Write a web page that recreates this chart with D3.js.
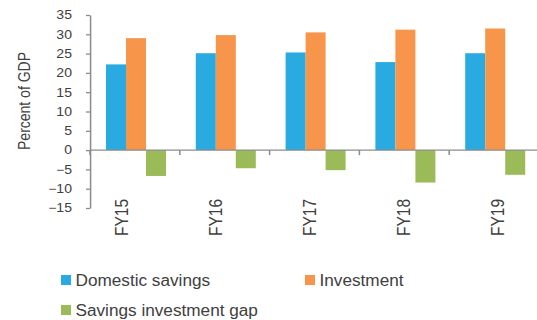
<!DOCTYPE html>
<html>
<head>
<meta charset="utf-8">
<script src="https://cdn.jsdelivr.net/npm/d3@7"></script>
<style>
  html, body { margin: 0; padding: 0; background: #fff; }
  svg { display: block; font-family: "Liberation Sans", Arial, sans-serif; }
</style>
</head>
<body>
<script>
// Savings and investment, percent of GDP
const categories = ["FY15", "FY16", "FY17", "FY18", "FY19"];
const seriesNames = ["Domestic savings", "Investment", "Savings investment gap"];
const domesticSavings = [22.2, 25.1, 25.3, 22.8, 25.1];
const investment = [29.0, 29.8, 30.5, 31.2, 31.5];
const savingsGap = [-6.7, -4.7, -5.2, -8.4, -6.4];
const yTicks = [35, 30, 25, 20, 15, 10, 5, 0, -5, -10, -15];

const colors = ["#29abe2", "#f7964a", "#9bbb59"];
const seriesValues = [domesticSavings, investment, savingsGap];

// The drawing is laid out in a narrower coordinate space and stretched to the page width.
const W = 537, H = 320, SX = 1.17;
const VW = W / SX;

const svg = d3.select("body").append("svg")
  .attr("width", W).attr("height", H)
  .attr("viewBox", `0 0 ${VW} ${H}`)
  .attr("preserveAspectRatio", "none");

const x0 = d3.scaleBand().domain(categories).range([90 / SX, 539 / SX]).padding(0);
const x1 = d3.scaleBand().domain(seriesNames).range([0, x0.bandwidth()])
  .paddingInner(0).paddingOuter(0.745).align(0.537);
const y = d3.scaleLinear().domain([-15, 35]).range([208, 15]);

// Category labels sit on their own evenly spaced positions
const xLabel = d3.scalePoint().domain(categories).range([121.7 / SX, 497.7 / SX]);

const axisColor = "#8c8c8c";
const textColor = "#404040";

// Bars
const rows = categories.map((c, i) => seriesNames.map((s, k) => ({ c, s, v: seriesValues[k][i], k })));
svg.append("g").selectAll("g").data(rows).join("g")
  .attr("transform", d => `translate(${x0(d[0].c)},0)`)
  .selectAll("rect").data(d => d).join("rect")
  .attr("x", d => x1(d.s))
  .attr("width", x1.bandwidth())
  .attr("y", d => y(Math.max(0, d.v)))
  .attr("height", d => Math.abs(y(d.v) - y(0)))
  .attr("fill", d => colors[d.k]);

// Y axis
const yAxis = svg.append("g")
  .attr("transform", `translate(${90 / SX},0)`)
  .call(d3.axisLeft(y).tickValues(yTicks).tickSize(4 / SX).tickPadding(12).tickSizeOuter(0));
yAxis.select(".domain").attr("stroke", axisColor).attr("stroke-width", 1.3);
yAxis.selectAll(".tick line").attr("stroke", axisColor).attr("stroke-width", 1.3);
yAxis.selectAll(".tick text")
  .attr("fill", textColor).attr("font-size", 12)
  .attr("font-family", "Liberation Sans, Arial, sans-serif");

// X axis at zero with ticks between categories
const bounds = categories.map(c => x0(c)).concat([x0.range()[1]]);
const xg = svg.append("g");
xg.append("line")
  .attr("x1", x0.range()[0]).attr("x2", VW)
  .attr("y1", y(0)).attr("y2", y(0))
  .attr("stroke", axisColor).attr("stroke-width", 1.3);
xg.selectAll("line.tk").data(bounds).join("line").attr("class", "tk")
  .attr("x1", d => d).attr("x2", d => d)
  .attr("y1", y(0)).attr("y2", y(0) + 5)
  .attr("stroke", axisColor).attr("stroke-width", 1.3);

// Category labels, rotated
svg.append("g").selectAll("text").data(categories).join("text")
  .attr("transform", d => `translate(${xLabel(d)},199) rotate(-90)`)
  .attr("text-anchor", "end")
  .attr("dy", "0.36em")
  .attr("font-size", 15.5)
  .attr("fill", textColor)
  .text(d => d);

// Y axis title
svg.append("text")
  .attr("transform", `translate(${24.5 / SX},101) rotate(-90)`)
  .attr("text-anchor", "middle")
  .attr("dy", "0.36em")
  .attr("font-size", 14)
  .attr("fill", textColor)
  .text("Percent of GDP");

// Legend
const legendItems = [
  { name: seriesNames[0], color: colors[0], x: 61, y: 275 },
  { name: seriesNames[1], color: colors[1], x: 305, y: 275 },
  { name: seriesNames[2], color: colors[2], x: 61, y: 305 }
];
const lg = svg.append("g").selectAll("g").data(legendItems).join("g");
lg.append("rect")
  .attr("x", d => d.x / SX).attr("y", d => d.y)
  .attr("width", 10 / SX).attr("height", 10)
  .attr("fill", d => d.color);
lg.append("text")
  .attr("transform", d => `translate(${(d.x + 14.5) / SX},${d.y + 10.8}) scale(0.93,1)`)
  .attr("font-size", 15.8)
  .attr("fill", textColor)
  .text(d => d.name);
</script>
</body>
</html>
